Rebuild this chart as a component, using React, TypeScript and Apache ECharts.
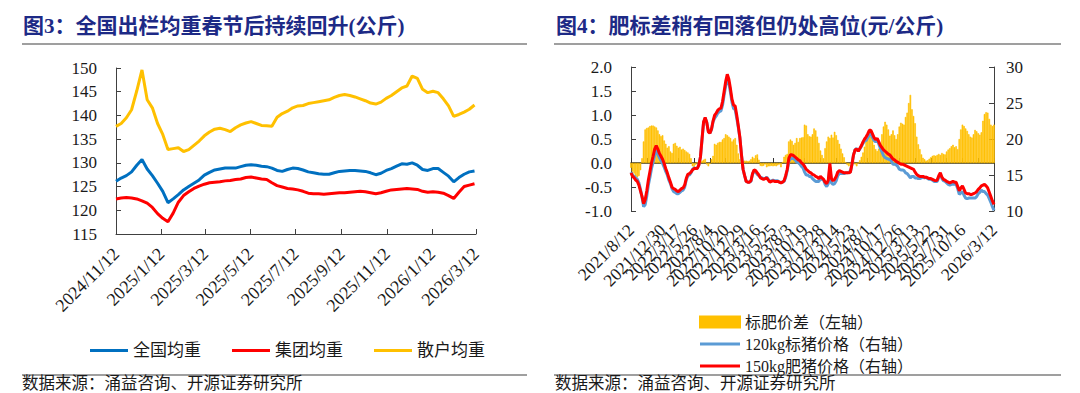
import React, { useEffect, useRef } from "react";
import * as echarts from "echarts";

// ---------- Left chart (图3) ----------
const leftTitle = "图3：全国出栏均重春节后持续回升(公斤)";
const leftTickLabels = ["2024/11/12", "2025/1/12", "2025/3/12", "2025/5/12", "2025/7/12", "2025/9/12", "2025/11/12", "2026/1/12", "2026/3/12"];
const leftFirstDate = "2024/11/12"; // weekly observations from this date
const leftNames = ["全国均重", "集团均重", "散户均重"];
const leftNational = [
  126.1, 126.8, 127.3, 128.1, 129.5, 130.7, 128.7, 127.3, 125.7, 124.0,
  121.6, 122.4, 123.3, 124.3, 125.0, 125.7, 126.4, 127.4, 128.0, 128.5,
  128.7, 128.9, 128.9, 128.9, 129.2, 129.5, 129.6, 129.5, 129.3, 129.2,
  128.9, 128.4, 128.2, 128.6, 128.9, 128.8, 128.5, 128.1, 127.9, 127.7,
  127.6, 127.6, 127.9, 128.2, 128.3, 128.4, 128.4, 128.3, 128.2, 127.9,
  127.5, 127.8, 128.4, 128.8, 129.3, 129.8, 129.7, 130.0, 129.5, 128.6,
  128.4, 128.8, 128.8, 128.0, 127.2, 126.0, 126.9, 127.6, 128.1, 128.3,
];
const leftGroup = [
  122.4, 122.6, 122.7, 122.6, 122.4, 122.0, 121.5, 120.6, 119.3, 118.3,
  117.6, 119.4, 121.7, 123.1, 123.9, 124.6, 125.1, 125.5, 125.8, 125.9,
  126.0, 126.2, 126.3, 126.5, 126.6, 126.9, 127.0, 126.8, 126.6, 126.5,
  125.8, 125.2, 124.9, 124.6, 124.5, 124.3, 124.0, 123.6, 123.5, 123.5,
  123.4, 123.5, 123.6, 123.7, 123.7, 123.8, 123.9, 124.0, 123.9, 123.7,
  123.5, 123.7, 124.0, 124.3, 124.4, 124.5, 124.6, 124.5, 124.4, 124.0,
  123.8, 123.9, 123.8, 123.6, 123.1, 122.5, 123.8, 125.0, 125.3, 125.6,
];
const leftScattered = [
  137.7, 138.3, 139.5, 141.2, 145.2, 149.6, 143.3, 141.6, 138.3, 136.0,
  132.8, 133.0, 133.2, 132.4, 132.8, 133.7, 134.6, 135.7, 136.5, 137.1,
  137.3, 137.0, 136.6, 137.4, 138.0, 138.4, 138.7, 138.3, 137.9, 137.8,
  137.7, 139.6, 140.4, 140.9, 141.6, 142.0, 142.1, 142.5, 142.7, 142.9,
  143.1, 143.3, 143.8, 144.2, 144.4, 144.2, 143.9, 143.5, 143.1, 142.6,
  142.4, 142.8, 143.6, 144.2, 145.0, 145.8, 146.2, 148.3, 147.8, 145.5,
  144.8, 145.1, 144.8, 143.5, 142.0, 139.8, 140.2, 140.7, 141.3, 142.2,
];

// ---------- Right chart (图4) ----------
const rightTitle = "图4：肥标差稍有回落但仍处高位(元/公斤)";
const rightFirstDate = "2021/8/12";
const rightLastDate = "2026/3/12";
const rightSkippedWeeks = ["2022/2/3", "2022/10/6", "2023/1/26", "2023/10/5", "2024/2/15", "2024/10/3", "2025/1/30", "2025/10/9", "2026/2/19"];
const rightNames = ["标肥价差（左轴）", "120kg标猪价格（右轴）", "150kg肥猪价格（右轴）"];
const rightSpread = [
  -0.1, -0.18, -0.22, -0.28, -0.3, -0.27, -0.15, 0.1, 0.45, 0.7,
  0.73, 0.74, 0.77, 0.78, 0.78, 0.76, 0.74, 0.68, 0.6, 0.56,
  0.58, 0.47, 0.4, 0.32, 0.35, 0.24, 0.21, 0.4, 0.42, 0.36,
  0.32, 0.34, 0.28, 0.3, 0.27, 0.24, 0.22, 0.19, 0.1, -0.07,
  -0.14, -0.04, 0.02, 0, 0.01, 0.05, 0.07, 0.09, -0.03, -0.07,
  -0.02, 0.08, 0.15, 0.4, 0.38, 0.42, 0.44, 0.44, 0.49, 0.52,
  0.6, 0.58, 0.55, 0.52, 0.45, 0.49, 0.52, 0.38, 0.2, 0.08,
  0, 0.04, 0.05, 0.05, 0.04, 0.05, 0.08, 0.13, 0.1, 0.16,
  0.18, 0.07, -0.06, -0.07, -0.06, -0.03, -0.09, -0.07, -0.07, -0.06,
  -0.07, -0.06, -0.07, -0.05, -0.03, -0.09, 0.02, 0.13, 0.17, 0.19,
  0.45, 0.49, 0.46, 0.38, 0.42, 0.52, 0.44, 0.52, 0.53, 0.54,
  0.8, 0.78, 0.6, 0.56, 0.55, 0.6, 0.72, 0.68, 0.55, 0.42,
  0.26, 0.17, 0.1, 0.31, 0.45, 0.55, 0.52, 0.59, 0.53, 0.65,
  0.58, 0.48, 0.4, 0.3, 0.2, 0.12, 0.02, -0.04, -0.07, -0.03,
  0.03, 0.05, -0.03, -0.07, 0, 0.06, 0.13, 0.22, 0.34, 0.46,
  0.52, 0.56, 0.55, 0.48, 0.38, 0.29, 0.25, 0.3, 0.42, 0.6,
  0.76, 0.86, 0.8, 0.7, 0.57, 0.6, 0.68, 0.58, 0.5, 0.6,
  0.76, 0.84, 0.82, 0.8, 0.96, 1.05, 1.25, 1.42, 1.12, 0.98,
  0.83, 0.55, 0.39, 0.29, 0.18, 0.11, 0.08, 0.05, 0.06, 0.09,
  0.12, 0.15, 0.16, 0.15, 0.17, 0.19, 0.17, 0.21, 0.19, 0.18,
  0.24, 0.28, 0.31, 0.35, 0.38, 0.33, 0.35, 0.29, 0.5, 0.7,
  0.8, 0.77, 0.72, 0.67, 0.6, 0.55, 0.53, 0.6, 0.69, 0.66,
  0.62, 0.59, 0.64, 0.88, 1.02, 1.06, 1.05, 0.92, 0.8, 0.77,
  0.8,
];
const rightStandard = [
  15.4, 15.0, 14.8, 14.6, 14.4, 13.9, 13.0, 11.9, 10.6, 10.9,
  12.1, 13.6, 14.7, 15.9, 16.8, 17.8, 18.4, 17.9, 17.4, 17.0,
  16.6, 16.1, 15.5, 15.0, 14.3, 13.8, 13.1, 12.7, 12.6, 12.4,
  12.4, 12.6, 12.8, 12.9, 13.3, 14.3, 14.9, 15.0, 15.3, 15.8,
  16.0, 15.9, 15.9, 16.4, 17.5, 19.9, 22.3, 22.9, 22.3, 21.1,
  20.8, 21.3, 22.4, 22.9, 23.2, 23.6, 23.8, 23.9, 24.7, 26.1,
  27.4, 28.4, 27.8, 26.5, 25.1, 24.2, 24.1, 22.9, 21.6, 20.1,
  17.8, 15.8, 14.9, 14.1, 14.0, 14.0, 14.1, 15.1, 15.6, 15.4,
  15.1, 14.9, 14.7, 14.6, 14.5, 14.5, 14.7, 14.4, 14.1, 14.2,
  14.3, 14.2, 14.2, 14.2, 14.0, 14.0, 14.0, 14.1, 14.7, 15.6,
  16.9, 17.3, 17.3, 17.3, 17.1, 16.8, 16.7, 16.5, 16.2, 16.0,
  15.4, 15.0, 15.0, 14.8, 14.8, 14.5, 14.3, 14.1, 14.1, 14.1,
  14.5, 14.4, 14.3, 13.7, 13.4, 13.8, 16.1, 13.9, 13.7, 13.8,
  14.2, 14.9, 15.2, 15.2, 15.2, 15.2, 15.3, 15.3, 15.4, 15.4,
  16.5, 17.8, 18.5, 18.7, 18.3, 18.6, 19.0, 19.4, 19.7, 19.8,
  20.2, 20.6, 20.7, 20.2, 19.8, 19.6, 19.9, 19.3, 18.7, 18.2,
  17.7, 17.4, 17.3, 17.2, 17.2, 16.9, 16.5, 16.5, 16.4, 16.2,
  15.8, 15.7, 15.7, 15.6, 15.3, 15.2, 14.9, 14.6, 14.8, 14.8,
  14.6, 14.6, 14.5, 14.5, 14.6, 14.7, 14.6, 14.7, 14.5, 14.4,
  14.4, 14.3, 14.1, 14.1, 14.1, 14.7, 15.1, 14.5, 14.2, 14.1,
  13.9, 13.7, 13.6, 13.7, 13.7, 13.7, 13.7, 13.1, 12.3, 12.5,
  12.7, 12.2, 11.8, 11.7, 11.8, 11.8, 11.8, 11.8, 11.8, 12.0,
  12.4, 12.6, 12.9, 12.7, 12.7, 12.4, 12.2, 11.7, 11.2, 10.6,
  10.1,
];
const rightFat = [
  15.3, 14.8, 14.6, 14.3, 14.1, 13.6, 12.8, 12.0, 11.0, 11.6,
  12.8, 14.3, 15.5, 16.7, 17.6, 18.6, 19.1, 18.6, 18.0, 17.6,
  17.2, 16.6, 15.9, 15.3, 14.6, 14.0, 13.3, 13.1, 13.0, 12.8,
  12.7, 12.9, 13.1, 13.2, 13.6, 14.5, 15.1, 15.2, 15.4, 15.7,
  15.9, 15.9, 15.9, 16.4, 17.5, 20.0, 22.4, 23.0, 22.3, 21.0,
  20.8, 21.4, 22.5, 23.3, 23.6, 24.0, 24.2, 24.3, 25.2, 26.6,
  28.0, 29.0, 28.3, 27.0, 25.5, 24.7, 24.6, 23.3, 21.8, 20.2,
  17.8, 15.8, 14.9, 14.1, 14.0, 14.0, 14.2, 15.2, 15.7, 15.6,
  15.3, 15.0, 14.6, 14.5, 14.4, 14.5, 14.6, 14.3, 14.0, 14.1,
  14.2, 14.1, 14.1, 14.1, 14.0, 13.9, 14.0, 14.2, 14.9, 15.8,
  17.3, 17.8, 17.8, 17.7, 17.5, 17.3, 17.1, 17.0, 16.7, 16.5,
  16.2, 15.8, 15.6, 15.4, 15.3, 15.1, 15.0, 14.8, 14.7, 14.5,
  14.8, 14.6, 14.4, 14.0, 13.8, 14.3, 16.6, 14.5, 14.2, 14.4,
  14.8, 15.4, 15.6, 15.5, 15.4, 15.3, 15.3, 15.3, 15.3, 15.4,
  16.5, 17.8, 18.5, 18.6, 18.3, 18.7, 19.1, 19.6, 20.0, 20.3,
  20.7, 21.2, 21.2, 20.7, 20.2, 19.9, 20.1, 19.6, 19.1, 18.8,
  18.5, 18.3, 18.1, 17.9, 17.8, 17.5, 17.2, 17.1, 16.9, 16.8,
  16.6, 16.5, 16.5, 16.4, 16.3, 16.2, 16.1, 16.0, 15.9, 15.8,
  15.4, 15.1, 14.9, 14.8, 14.8, 14.8, 14.7, 14.7, 14.6, 14.5,
  14.5, 14.4, 14.3, 14.2, 14.3, 14.9, 15.3, 14.7, 14.4, 14.3,
  14.1, 14.0, 13.9, 14.0, 14.1, 14.0, 14.0, 13.4, 12.8, 13.2,
  13.5, 13.0, 12.5, 12.4, 12.4, 12.3, 12.3, 12.4, 12.5, 12.7,
  13.0, 13.2, 13.5, 13.6, 13.7, 13.5, 13.2, 12.6, 12.0, 11.4,
  10.9,
];

const sourceText = "数据来源：涌益咨询、开源证券研究所";

// ---------- helpers ----------
const DAY = 86400000;
const parseDate = (s: string) => {
  const [y, m, d] = s.split("/").map(Number);
  return Date.UTC(y, m - 1, d);
};
const fmtDate = (t: number) => {
  const d = new Date(t);
  return `${d.getUTCFullYear()}/${d.getUTCMonth() + 1}/${d.getUTCDate()}`;
};

const leftT0 = parseDate(leftTickLabels[0]);
const leftDayOf = (s: string) => Math.round((parseDate(s) - leftT0) / DAY);
const leftTickOffsets = leftTickLabels.map(leftDayOf);
const leftStartOffset = leftDayOf(leftFirstDate);
const leftPairs = (arr: number[]) => arr.map((v, i) => [leftStartOffset + 7 * i, v]);

const rightDates: string[] = [];
for (let t = parseDate(rightFirstDate); t <= parseDate(rightLastDate); t += 7 * DAY) {
  const s = fmtDate(t);
  if (!rightSkippedWeeks.includes(s)) rightDates.push(s);
}

const SERIF = "'Liberation Serif', 'Times New Roman', serif";
const MIXED = "'Liberation Serif', 'Noto Sans CJK SC', serif";
const AXIS = "#404040";
const TEXT = "#1a1a1a";
const NAVY = "#1d2a86";
const LINE_ICON = "path://M0,0h0.01v11h-0.01z M0,4h40v3h-40z";

export default function App() {
  const ref = useRef<HTMLDivElement>(null);

  useEffect(() => {
    document.body.style.margin = "0";
    if (!ref.current) return;
    const chart = echarts.init(ref.current, undefined, { renderer: "svg" });

    const valueAxisBase = {
      axisLine: { show: true, lineStyle: { color: AXIS, width: 1 } },
      axisTick: { show: true, inside: true, length: 5, lineStyle: { color: AXIS } },
      splitLine: { show: false },
    };

    const option: any = {
      animation: false,
      backgroundColor: "#ffffff",
      grid: [
        { left: 116, top: 68, width: 360, height: 166 },
        { left: 631, top: 67, width: 363, height: 144 },
      ],
      xAxis: [
        {
          gridIndex: 0,
          type: "value",
          min: 0,
          max: leftTickOffsets[leftTickOffsets.length - 1],
          axisLine: { show: true, onZero: false, lineStyle: { color: AXIS } },
          axisTick: { show: true, inside: true, length: 5, customValues: leftTickOffsets, lineStyle: { color: AXIS } },
          axisLabel: {
            customValues: leftTickOffsets,
            formatter: (v: number) => fmtDate(leftT0 + v * DAY),
            rotate: 45,
            fontSize: 18,
            fontFamily: SERIF,
            color: TEXT,
            margin: 17,
          },
          splitLine: { show: false },
        },
        {
          gridIndex: 1,
          type: "category",
          data: rightDates,
          boundaryGap: false,
          position: "bottom",
          axisLine: { show: false, onZero: false },
          axisTick: { show: false },
          axisLabel: {
            interval: 9,
            showMinLabel: true,
            showMaxLabel: true,
            rotate: 45,
            fontSize: 17.5,
            fontFamily: SERIF,
            color: TEXT,
            margin: 16,
          },
          splitLine: { show: false },
        },
        {
          gridIndex: 1,
          type: "category",
          data: rightDates,
          boundaryGap: false,
          position: "bottom",
          axisLine: { show: true, onZero: true, lineStyle: { color: "#3b3510", width: 1.5 } },
          axisTick: { show: true, inside: true, interval: 9, length: 5, lineStyle: { color: "#333" } },
          axisLabel: { show: false },
          splitLine: { show: false },
        },
      ],
      yAxis: [
        {
          gridIndex: 0,
          type: "value",
          min: 115,
          max: 150,
          interval: 5,
          ...valueAxisBase,
          axisLabel: { fontSize: 17, fontFamily: SERIF, color: TEXT, margin: 19 },
        },
        {
          gridIndex: 1,
          type: "value",
          position: "left",
          min: -1,
          max: 2,
          interval: 0.5,
          ...valueAxisBase,
          axisLabel: { fontSize: 17, fontFamily: SERIF, color: TEXT, margin: 19, formatter: (v: number) => v.toFixed(1) },
        },
        {
          gridIndex: 1,
          type: "value",
          position: "right",
          min: 10,
          max: 30,
          interval: 5,
          ...valueAxisBase,
          axisLabel: { fontSize: 17, fontFamily: SERIF, color: TEXT, margin: 12 },
        },
      ],
      legend: [
        {
          data: leftNames.map((n) => ({ name: n, icon: "rect" })),
          left: 85,
          top: 337,
          itemWidth: 38,
          itemHeight: 3,
          itemGap: 31,
          textStyle: { fontSize: 17, fontFamily: MIXED, color: TEXT },
        },
        {
          data: [
            { name: rightNames[0], icon: "rect" },
            { name: rightNames[1], icon: LINE_ICON },
            { name: rightNames[2], icon: LINE_ICON },
          ],
          orient: "vertical",
          left: 694,
          top: 309,
          itemWidth: 40,
          itemHeight: 11,
          itemGap: 6,
          symbolKeepAspect: false,
          textStyle: { fontSize: 16, fontFamily: MIXED, color: TEXT },
        },
      ],
      series: [
        {
          name: leftNames[0],
          type: "line",
          xAxisIndex: 0,
          yAxisIndex: 0,
          data: leftPairs(leftNational),
          symbol: "none",
          color: "#0070C0",
          lineStyle: { width: 3, color: "#0070C0" },
        },
        {
          name: leftNames[1],
          type: "line",
          xAxisIndex: 0,
          yAxisIndex: 0,
          data: leftPairs(leftGroup),
          symbol: "none",
          color: "#FF0000",
          lineStyle: { width: 3, color: "#FF0000" },
        },
        {
          name: leftNames[2],
          type: "line",
          xAxisIndex: 0,
          yAxisIndex: 0,
          data: leftPairs(leftScattered),
          symbol: "none",
          color: "#FFC000",
          lineStyle: { width: 3, color: "#FFC000" },
        },
        {
          name: rightNames[0],
          type: "bar",
          xAxisIndex: 1,
          yAxisIndex: 1,
          data: rightSpread,
          barCategoryGap: "0%",
          color: "#FFC000",
          itemStyle: { color: "#FFC000", borderColor: "#FFC000", borderWidth: 0.6 },
        },
        {
          name: rightNames[1],
          type: "line",
          xAxisIndex: 1,
          yAxisIndex: 2,
          data: rightStandard,
          symbol: "none",
          color: "#5B9BD5",
          lineStyle: { width: 3, color: "#5B9BD5" },
        },
        {
          name: rightNames[2],
          type: "line",
          xAxisIndex: 1,
          yAxisIndex: 2,
          data: rightFat,
          symbol: "none",
          color: "#FF0000",
          lineStyle: { width: 3, color: "#FF0000" },
        },
      ],
      graphic: [
        { type: "text", x: 23, y: 26, style: { text: leftTitle, fontSize: 21, fontWeight: "bold", fontFamily: MIXED, fill: NAVY, verticalAlign: "middle" } },
        { type: "text", x: 556, y: 26, style: { text: rightTitle, fontSize: 21, fontWeight: "bold", fontFamily: MIXED, fill: NAVY, verticalAlign: "middle" } },
        { type: "line", shape: { x1: 22, y1: 44, x2: 527, y2: 44 }, style: { stroke: "#7f7f7f", lineWidth: 1.5 } },
        { type: "line", shape: { x1: 554, y1: 44, x2: 1061, y2: 44 }, style: { stroke: "#7f7f7f", lineWidth: 1.5 } },
        { type: "line", shape: { x1: 22, y1: 375, x2: 527, y2: 375 }, style: { stroke: "#7f7f7f", lineWidth: 1.5 } },
        { type: "line", shape: { x1: 554, y1: 375, x2: 1061, y2: 375 }, style: { stroke: "#7f7f7f", lineWidth: 1.5 } },
        { type: "text", x: 22, y: 383, style: { text: sourceText, fontSize: 16.5, fontFamily: MIXED, fill: TEXT, verticalAlign: "middle" } },
        { type: "text", x: 555, y: 383, style: { text: sourceText, fontSize: 16.5, fontFamily: MIXED, fill: TEXT, verticalAlign: "middle" } },
      ],
    };

    chart.setOption(option);
    return () => chart.dispose();
  }, []);

  return <div ref={ref} style={{ width: 1080, height: 393 }} />;
}
